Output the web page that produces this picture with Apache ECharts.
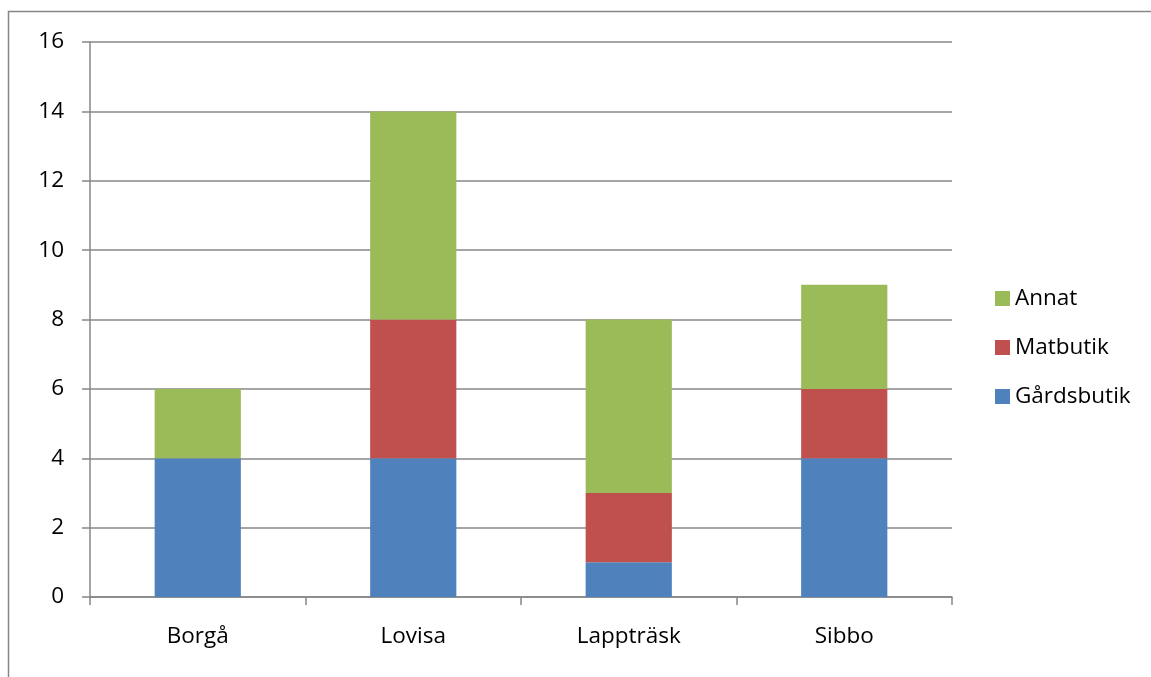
<!DOCTYPE html>
<html><head><meta charset="utf-8">
<script src="https://cdn.jsdelivr.net/npm/echarts@6/dist/echarts.min.js"></script>
<style>html,body{margin:0;padding:0;background:#fff}#c{width:1151px;height:677px}</style>
</head><body><div id="c"></div>
<script>
const categories = ['Borgå', 'Lovisa', 'Lappträsk', 'Sibbo'];
const gardsbutik = [4, 4, 1, 4];
const matbutik = [0, 4, 2, 2];
const annat = [2, 6, 5, 3];
const yTicks = [0, 2, 4, 6, 8, 10, 12, 14, 16];

const chart = echarts.init(document.getElementById('c'));
const font = '"Open Sans", "Noto Sans", sans-serif';
const lineColor = '#878787';
chart.setOption({
  animation: false,
  textStyle: { fontFamily: font },
  graphic: [{
    type: 'rect', shape: { x: 8.5, y: 11.5, width: 1300, height: 1000 },
    style: { fill: 'none', stroke: lineColor, lineWidth: 1.5 }, silent: true
  }],
  grid: { left: 90, right: 199, top: 42, bottom: 80 },
  legend: {
    data: ['Annat', 'Matbutik', 'Gårdsbutik'],
    orient: 'vertical', left: 995, top: 287, padding: 0,
    itemWidth: 15, itemHeight: 15, itemGap: 26,
    icon: 'rect',
    textStyle: { fontFamily: font, fontSize: 22.5, color: '#000', lineHeight: 22 }
  },
  xAxis: {
    type: 'category', data: categories,
    axisLine: { lineStyle: { color: lineColor, width: 1.5 } },
    axisTick: { show: true, length: 8, alignWithLabel: false, lineStyle: { color: lineColor, width: 1.5 } },
    axisLabel: { color: '#000', fontSize: 22.5, fontFamily: font, margin: 28 }
  },
  yAxis: {
    type: 'value', min: yTicks[0], max: yTicks[yTicks.length - 1], interval: 2,
    axisLine: { show: true, lineStyle: { color: lineColor, width: 1.5 } },
    axisTick: { show: true, length: 8, inside: false, lineStyle: { color: lineColor, width: 1.5 } },
    splitLine: { lineStyle: { color: lineColor, width: 1.5 } },
    axisLabel: { color: '#000', fontSize: 22.5, fontFamily: font, margin: 26 }
  },
  series: [
    { name: 'Gårdsbutik', type: 'bar', stack: 's', data: gardsbutik, barWidth: '40%', itemStyle: { color: '#4F81BD' } },
    { name: 'Matbutik', type: 'bar', stack: 's', data: matbutik, itemStyle: { color: '#C0504D' } },
    { name: 'Annat', type: 'bar', stack: 's', data: annat, itemStyle: { color: '#9BBB59' } }
  ]
});
</script></body></html>
